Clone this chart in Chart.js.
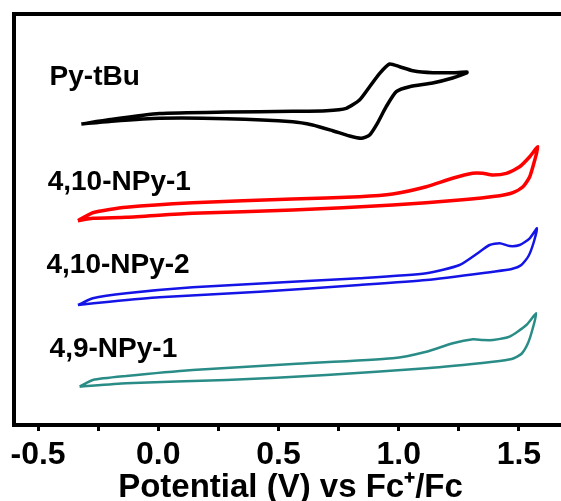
<!DOCTYPE html>
<html><head><meta charset="utf-8">
<script src="https://cdn.jsdelivr.net/npm/chart.js@4/dist/chart.umd.min.js"></script>
<style>
html,body{margin:0;padding:0;background:#fff;overflow:hidden;}
#wrap{width:561px;height:501px;overflow:hidden;position:relative;}
#c{position:absolute;left:0;top:0;}
</style></head>
<body><div id="wrap"><canvas id="c" width="575" height="501"></canvas></div>
<script>
// ---- data (potential in V vs Fc+/Fc, current in a.u., stacked) ----
const seriesNames = ["Py-tBu", "4,10-NPy-1", "4,10-NPy-2", "4,9-NPy-1"];
const pyTbuE = [-0.32,-0.20,0.005,0.283,0.559,0.699,0.782,0.837,0.879,0.921,0.962,1.004,1.059,1.142,1.225,1.284,
                1.283,1.224,1.141,1.045,0.990,0.948,0.912,0.879,0.844,0.796,0.725,0.642,0.559,0.283,0.005,-0.203,-0.32];
const pyTbuI = [30.1,30.55,31.15,31.3,31.37,31.43,31.67,32.5,33.83,35.17,36.1,35.83,35.43,35.23,35.23,35.3,
                35.2,34.7,34.2,33.83,33.33,31.83,30.2,29.0,28.67,28.9,29.43,30.0,30.33,30.63,30.67,30.35,30.1];
const npy1E = [-0.334,-0.272,-0.133,0.143,0.559,0.837,0.975,1.115,1.224,1.307,1.349,1.391,1.448,1.503,1.545,1.579,
               1.566,1.545,1.517,1.475,1.420,1.253,0.975,0.559,0.143,-0.133,-0.272,-0.334];
const npy1I = [20.43,21.23,21.77,22.23,22.6,22.83,23.1,23.83,24.67,25.17,25.17,25.0,25.17,25.83,26.83,27.83,
               26.5,24.83,23.83,23.23,22.93,22.5,22.0,21.5,21.17,20.77,20.67,20.43];
const npy2E = [-0.334,-0.272,-0.133,0.143,0.559,0.837,1.115,1.253,1.337,1.378,1.420,1.461,1.503,1.545,1.575,
               1.562,1.540,1.510,1.470,1.392,1.115,0.837,0.421,0.005,-0.203,-0.334];
const npy2I = [12.0,12.67,13.17,13.77,14.33,14.67,15.17,16.0,17.33,18.0,18.17,17.9,18.0,18.67,19.67,
               18.3,16.9,16.0,15.6,15.33,14.5,14.0,13.33,12.77,12.33,12.0];
const npy49E = [-0.327,-0.272,-0.133,0.143,0.559,0.975,1.115,1.225,1.309,1.350,1.392,1.461,1.531,1.572,
                1.558,1.538,1.510,1.470,1.392,1.115,0.699,0.283,-0.133,-0.327];
const npy49I = [3.83,4.5,4.9,5.5,6.1,6.67,7.33,8.17,8.57,8.5,8.5,8.83,10.0,11.17,
                9.7,8.2,7.1,6.6,6.33,5.67,5.0,4.5,4.17,3.83];
const majorTicks = [-0.5, 0.0, 0.5, 1.0, 1.5];
const minorTicks = [-0.25, 0.25, 0.75, 1.25];
const axisTitle = "Potential (V) vs Fc\u207A/Fc";

// ---- styling / layout ----
const colors = ["#000000", "#ff0000", "#1414e6", "#2a8c86"];
const widths = [3.5, 3.5, 2.5, 2.5];
const labelSizes = [28, 28, 28, 28];
const labelAnchors = [[-0.452, 34.0], [-0.460, 23.5], [-0.465, 15.2], [-0.452, 6.8]];
const allE = [pyTbuE, npy1E, npy2E, npy49E];
const allI = [pyTbuI, npy1I, npy2I, npy49I];

const datasets = allE.map((E, k) => ({
  label: seriesNames[k],
  data: E.map((e, i) => ({x: e, y: allI[k][i]})),
  showLine: true, borderColor: colors[k], borderWidth: widths[k],
  pointRadius: 0, tension: 0.2, fill: false
}));

const FONT = "'Liberation Sans', Arial, sans-serif";
const labelPlugin = {
  id: 'seriesLabels',
  afterDatasetsDraw(chart) {
    const {ctx, scales} = chart;
    ctx.save();
    ctx.fillStyle = "#000";
    ctx.textAlign = "left";
    ctx.textBaseline = "alphabetic";
    seriesNames.forEach((n, k) => {
      ctx.font = "bold " + labelSizes[k] + "px " + FONT;
      ctx.fillText(n, scales.x.getPixelForValue(labelAnchors[k][0]), scales.y.getPixelForValue(labelAnchors[k][1]));
    });
    ctx.restore();
  }
};

const borderOnly = (pos, size) => ({
  type: 'linear', position: pos, min: pos==='top'?-0.6:0, max: pos==='top'?1.7:41.1,
  display: true,
  ticks: {display: false},
  grid: {display: true, drawOnChartArea: false, drawTicks: false},
  border: {display: true, width: 4, color: '#000'},
  afterFit(s) { if (pos === 'top') s.height = size; else s.width = size; }
});

new Chart(document.getElementById('c'), {
  type: 'scatter',
  data: {datasets},
  options: {
    responsive: false, animation: false, devicePixelRatio: 1,
    layout: {padding: 0},
    plugins: {legend: {display: false}, tooltip: {enabled: false}},
    scales: {
      x: {
        type: 'linear', position: 'bottom', min: -0.6, max: 1.7,
        afterBuildTicks(s) { s.ticks = majorTicks.concat(minorTicks).sort((a,b)=>a-b).map(v => ({value: v})); },
        ticks: {
          color: '#000', padding: 8, maxRotation: 0, autoSkip: false,
          font: {family: FONT, size: 32, weight: 'bold', lineHeight: 1},
          callback: (v) => majorTicks.some(m => Math.abs(m - v) < 1e-9) ? v.toFixed(1) : ''
        },
        grid: {display: true, drawOnChartArea: false, drawTicks: true, tickLength: 6, tickWidth: 3, tickColor: '#000'},
        border: {display: true, width: 4, color: '#000'},
        title: {display: true, text: axisTitle, color: '#000',
                font: {family: FONT, size: 33, weight: 'bold', lineHeight: 1}, padding: {top: 0, bottom: -3}},
        afterFit(s) { s.height = 76; }
      },
      x2: borderOnly('top', 14),
      y: Object.assign(borderOnly('left', 14), {min: 0, max: 41.1}),
      y2: borderOnly('right', 8)
    }
  },
  plugins: [labelPlugin]
});
</script></body></html>
